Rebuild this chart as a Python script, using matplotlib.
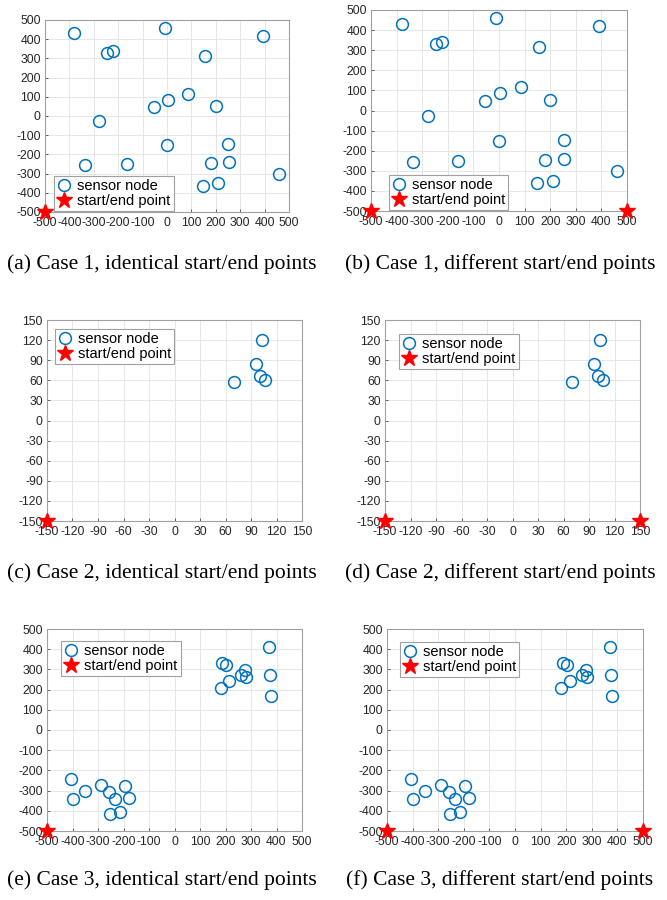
import matplotlib
matplotlib.use("Agg")
import matplotlib.pyplot as plt

# ---------------- data ----------------
case1_x = [-380, -10, 392, -245, -222, 155, 87, 5, -55, 200, -278, 0, 252, -336, -162, 180, 254, 460, 147, 209]
case1_y = [430, 460, 418, 330, 340, 315, 115, 85, 48, 50, -27, -150, -148, -257, -249, -245, -242, -303, -362, -350]

case2_x = [103, 96, 100, 107, 70]
case2_y = [120, 84, 67, 61, 57]

case3_x = [370, 187, 202, 277, 262, 282, 375, 213, 181, 377,
           -407, -398, -350, -288, -258, -234, -194, -179, -252, -215]
case3_y = [412, 331, 320, 298, 274, 264, 270, 242, 206, 168,
           -244, -342, -303, -273, -306, -343, -275, -335, -414, -404]

start_same_1 = ([-500], [-500])
start_diff_1 = ([-500, 500], [-500, -500])
start_same_2 = ([-150], [-150])
start_diff_2 = ([-150, 150], [-150, -150])

ticks_1 = list(range(-500, 501, 100))
ticks_2 = list(range(-150, 151, 30))

captions = [
    "(a) Case 1, identical start/end points",
    "(b) Case 1, different start/end points",
    "(c) Case 2, identical start/end points",
    "(d) Case 2, different start/end points",
    "(e) Case 3, identical start/end points",
    "(f) Case 3, different start/end points",
]

# ---------------- layout ----------------
W, H = 667, 900
fig = plt.figure(figsize=(W / 100, H / 100), dpi=100)

def add_ax(l, t, r, b):
    return fig.add_axes([l / W, 1 - b / H, (r - l) / W, (b - t) / H])

panels = [
    ((45, 20, 289, 212), case1_x, case1_y, start_same_1, ticks_1, 500, "lower left", (0.037, 0.005)),
    ((371, 10, 627, 211), case1_x, case1_y, start_diff_1, ticks_1, 500, "lower left", (0.07, 0.005)),
    ((47, 320, 302, 521), case2_x, case2_y, start_same_2, ticks_2, 150, "upper left", (0.031, 0.955)),
    ((385, 320, 640, 521), case2_x, case2_y, start_diff_2, ticks_2, 150, "upper left", (0.055, 0.93)),
    ((47, 629, 302, 831), case3_x, case3_y, start_same_1, ticks_1, 500, "upper left", (0.055, 0.94)),
    ((387, 629, 643, 831), case3_x, case3_y, start_diff_1, ticks_1, 500, "upper left", (0.05, 0.936)),
]

blue = "#0072BD"
tick_font = {"family": "Liberation Sans", "size": 8.8}

for (box, xs, ys, stars, ticks, lim, loc, anchor) in panels:
    ax = add_ax(*box)
    ax.plot(xs, ys, linestyle="none", marker="o", markersize=8.5,
            markerfacecolor="none", markeredgecolor=blue, markeredgewidth=1.1,
            label="sensor node", zorder=3)
    ax.plot(stars[0], stars[1], linestyle="none", marker="*", markersize=12,
            color="#FF0000", label="start/end point", clip_on=False, zorder=4)
    ax.set_xlim(-lim, lim)
    ax.set_ylim(-lim, lim)
    ax.set_xticks(ticks)
    ax.set_yticks(ticks)
    ax.set_xticklabels([str(t) for t in ticks], fontdict=tick_font, color="#262626")
    ax.set_yticklabels([str(t) for t in ticks], fontdict=tick_font, color="#262626")
    ax.tick_params(direction="in", length=2.5, width=0.5, color="#262626")
    ax.tick_params(axis="x", pad=3.5)
    ax.tick_params(axis="y", pad=3)
    ax.grid(True, color="#E3E3E3", linewidth=0.6)
    ax.set_axisbelow(True)
    for sp in ax.spines.values():
        sp.set_color("#A0A0A0")
        sp.set_linewidth(0.8)
    leg = ax.legend(loc=loc, bbox_to_anchor=anchor, borderaxespad=0,
                    prop={"family": "Liberation Sans", "size": 10.5},
                    fancybox=False, framealpha=1, edgecolor="#A0A0A0",
                    handlelength=1.0, handletextpad=0.4, labelspacing=0.1,
                    borderpad=0.2)
    leg.get_frame().set_linewidth(0.8)

cap_pos = [(162, 264), (500, 264), (162, 573), (500, 573), (162, 880), (500, 880)]
for (cx, cy), txt in zip(cap_pos, captions):
    fig.text(cx / W, 1 - cy / H, txt, ha="center", va="center",
             family="Liberation Serif", fontsize=15.5, color="black")

fig.savefig("out.png", dpi=100)
